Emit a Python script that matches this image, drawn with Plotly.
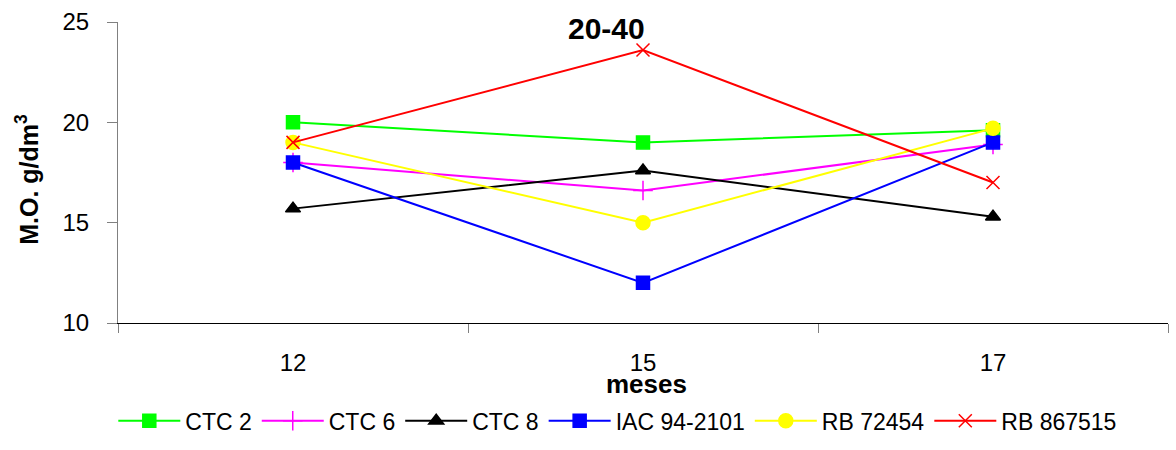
import plotly.graph_objects as go

# Organic matter (g/dm³) at the 20-40 cm layer, by month
months = ["12", "15", "17"]
ctc2 = [20.0, 19.0, 19.6]
ctc6 = [18.0, 16.6, 18.9]
ctc8 = [15.7, 17.6, 15.3]
iac = [18.0, 12.0, 19.0]
rb72454 = [19.0, 15.0, 19.7]
rb867515 = [19.0, 23.6, 17.0]

series = [
    ("CTC 2", ctc2, "#00FF00", "square", 13),
    ("CTC 6", ctc6, "#FF00FF", "cross-thin", 14),
    ("CTC 8", ctc8, "#000000", "triangle-up", 13),
    ("IAC 94-2101", iac, "#0000FF", "square", 13),
    ("RB 72454", rb72454, "#FFFF00", "circle", 14),
    ("RB 867515", rb867515, "#FF0000", "x-thin", 13),
]

fig = go.Figure()
for name, vals, color, sym, size in series:
    fig.add_trace(go.Scatter(
        x=months, y=vals, name=name, mode="lines+markers",
        line=dict(color=color, width=2),
        marker=dict(symbol=sym, size=size, color=color,
                    line=dict(color=color, width=1.5)),
    ))

font = "Liberation Sans, Arial, sans-serif"
fig.update_layout(
    width=1176, height=450,
    margin=dict(l=118, r=8, t=20, b=125),
    paper_bgcolor="white", plot_bgcolor="white",
    font=dict(family=font, size=24, color="black"),
    showlegend=True,
    legend=dict(orientation="h", x=0.476, xanchor="center", y=-0.325, yanchor="middle",
                font=dict(size=23), itemwidth=62),
    xaxis=dict(
        type="category", range=[-0.5, 2.5], tickson="boundaries",
        ticks="outside", ticklen=9, tickcolor="#808080",
        showline=True, linecolor="#000000", linewidth=1,
        showgrid=False, ticklabelstandoff=18,
    ),
    yaxis=dict(
        range=[10, 25], dtick=5, ticks="outside", ticklen=10, tickcolor="#808080",
        showline=True, linecolor="#808080", linewidth=1,
        showgrid=False, zeroline=False, ticklabelstandoff=13,
    ),
    annotations=[
        dict(text="<b>20-40</b>", x=0.465, y=0.980, xref="paper", yref="paper",
             xanchor="center", yanchor="middle", showarrow=False,
             font=dict(size=30, family=font)),
        dict(text="<b>meses</b>", x=0.503, y=-0.203, xref="paper", yref="paper",
             xanchor="center", yanchor="middle", showarrow=False,
             font=dict(size=26, family=font)),
        dict(text="<b>M.O. g/dm<sup>3</sup></b>", x=-0.0867, y=0.479, xref="paper", yref="paper",
             xanchor="center", yanchor="middle", showarrow=False, textangle=-90,
             font=dict(size=25, family=font)),
    ],
)

fig.write_html("out.html")
